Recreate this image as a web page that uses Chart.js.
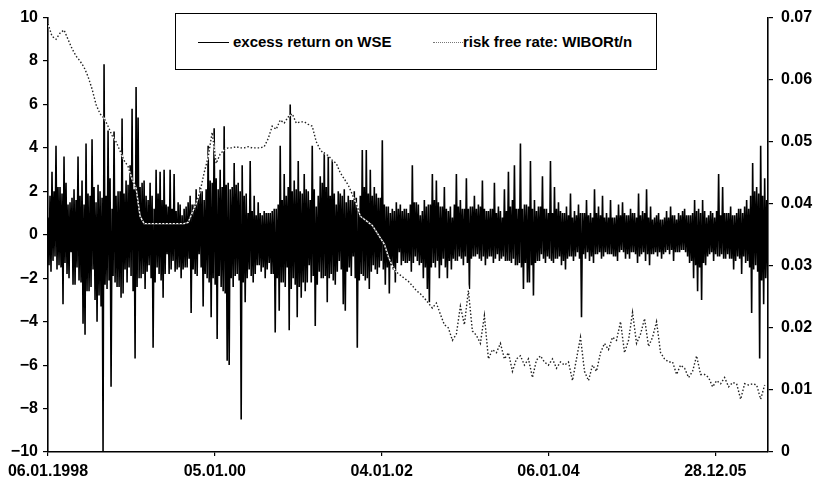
<!DOCTYPE html>
<html><head><meta charset="utf-8">
<script src="https://cdn.jsdelivr.net/npm/chart.js@4/dist/chart.umd.min.js"></script>
<style>
html,body{margin:0;padding:0;background:#fff;}
#wrap{position:relative;width:814px;height:489px;}
#legend{position:absolute;left:175px;top:13px;width:480px;height:55px;border:1.5px solid #000;background:#fff;
 font:bold 15px "Liberation Sans",Arial,sans-serif;color:#000;}
#legend .item{position:absolute;top:19px;white-space:nowrap;}
#legend .mk{position:absolute;top:28px;height:0;}
</style></head>
<body>
<div id="wrap">
<canvas id="c" width="814" height="489"></canvas>
<div id="legend">
 <div class="mk" style="left:22px;width:31px;border-top:1.3px solid #000"></div>
 <div class="item" style="left:57px">excess return on WSE</div>
 <div class="mk" style="left:257px;width:30px;border-top:1.5px dotted #777"></div>
 <div class="item" style="left:287px">risk free rate: WIBORt/n</div>
</div>
</div>
<script>
// x-axis tick labels (observation number -> date)
const tickObs = [0, 500, 1000, 1500, 2000];
const tickLabels = ["06.01.1998", "05.01.00", "04.01.02", "06.01.04", "28.12.05"];
const totalObs = 2158;

// excess return on WSE (sampled every 3rd observation)
const returnStep = 3;
const excessReturn = [
 0.8,-1.4,1.8,-1.7,2.9,-1.2,2.0,-1.0,4.1,-1.6,2.2,-1.4,2.2,-1.5,1.9,-3.2,3.6,-1.3,2.4,-1.8,
 1.4,-2.0,1.5,-0.8,1.7,-2.3,2.1,-2.3,1.6,-1.5,3.6,-2.1,1.8,-2.2,2.5,-4.1,1.4,-4.6,4.2,-2.6,
 1.9,-2.6,1.8,-2.4,4.4,-1.6,2.2,-3.0,1.5,-4.0,2.3,-2.8,2.0,-3.3,1.7,-10.0,7.85,-2.3,1.8,-2.5,
 4.8,-2.1,2.6,-7.0,1.2,-1.9,4.75,-2.2,1.8,-2.4,2.0,-2.4,2.0,-2.9,5.35,-2.7,1.9,-1.6,2.5,-2.2,
 2.3,-1.5,3.2,-1.9,5.8,-2.6,2.1,-5.7,6.8,-2.4,5.4,-2.0,2.2,-2.0,2.4,-1.8,2.5,-2.5,1.8,-1.7,
 1.6,-1.4,2.4,-2.0,1.8,-5.2,1.2,-2.2,3.0,-1.5,1.9,-1.8,2.9,-2.1,1.6,-2.9,3.0,-1.8,1.4,-0.9,
 1.3,-1.8,3.0,-1.6,1.2,-1.2,2.8,-1.7,1.1,-1.6,1.5,-1.5,1.4,-2.0,0.9,-1.6,1.2,-1.5,1.3,-1.5,
 1.5,-1.1,1.8,-3.6,1.4,-1.6,1.4,-1.8,2.1,-1.9,1.7,-0.9,2.2,-1.5,2.0,-3.3,1.6,-1.8,2.1,-2.0,
 4.1,-2.2,2.5,-3.8,2.4,-2.0,4.9,-2.3,2.6,-4.8,2.1,-1.9,3.0,-2.4,2.2,-2.6,5.0,-2.7,2.3,-5.8,
 2.4,-6.0,2.1,-2.0,2.2,-2.4,3.3,-1.9,2.3,-1.8,2.4,-2.1,2.0,-8.5,3.2,-2.2,1.8,-3.1,1.9,-2.0,
 1.0,-1.6,3.4,-1.9,1.1,-2.2,1.8,-1.8,0.9,-1.4,1.5,-1.4,1.0,-1.7,0.9,-1.5,1.1,-2.0,1.0,-1.6,
 1.0,-1.3,1.0,-1.8,1.1,-1.8,1.2,-4.5,1.2,-2.0,1.4,-3.5,4.1,-2.2,1.6,-2.2,2.8,-2.4,1.8,-1.5,
 2.2,-4.4,6.0,-2.5,2.0,-2.0,2.5,-2.3,2.1,-3.8,3.4,-2.4,2.0,-2.9,1.9,-2.2,2.8,-2.6,2.1,-2.2,
 2.0,-1.4,1.6,-2.2,4.1,-1.9,2.1,-4.2,1.3,-2.3,1.8,-1.7,2.7,-2.0,2.4,-2.0,3.8,-1.9,2.2,-3.1,
 3.6,-2.0,1.8,-1.8,3.4,-2.1,1.9,-2.3,1.4,-1.7,2.0,-1.2,1.9,-1.6,1.8,-3.2,2.1,-3.5,1.5,-1.7,
 1.8,-1.5,1.6,-1.9,1.6,-1.0,2.0,-2.0,1.7,-5.2,1.2,-2.1,1.8,-1.8,3.9,-1.9,2.2,-2.1,3.9,-2.0,
 1.9,-2.5,3.0,-1.7,1.8,-1.4,2.2,-1.6,1.9,-1.8,1.7,-1.5,1.7,-1.2,4.35,-1.6,1.4,-2.3,1.3,-1.5,
 1.3,-2.7,1.0,-1.4,1.2,-1.6,1.1,-2.2,1.5,-1.3,1.2,-0.8,1.4,-1.4,1.1,-1.2,1.2,-1.3,1.2,-1.3,
 1.0,-1.2,1.4,-1.7,3.2,-1.3,1.5,-1.0,1.5,-1.2,1.4,-1.4,0.9,-1.3,1.1,-2.0,1.6,-1.5,1.3,-2.5,
 1.4,-3.1,1.4,-1.5,2.8,-1.3,1.6,-1.5,2.5,-1.2,1.5,-2.0,1.3,-1.4,1.3,-1.1,2.2,-1.5,1.2,-2.0,
 1.1,-1.2,1.3,-1.6,0.8,-1.1,1.4,-1.2,2.8,-1.2,1.3,-1.0,1.6,-1.1,1.2,-1.4,1.2,-1.0,2.6,-1.3,
 1.2,-2.5,1.3,-1.1,1.3,-1.0,1.8,-1.0,1.2,-0.9,1.4,-1.1,1.3,-1.2,2.5,-1.0,1.2,-1.4,1.1,-1.1,
 1.1,-1.0,1.2,-1.0,1.2,-1.3,2.4,-1.1,1.0,-0.9,1.3,-1.2,1.1,-1.1,0.8,-1.0,2.1,-1.2,1.1,-1.2,
 2.9,-1.2,1.3,-1.3,1.6,-1.1,3.2,-1.4,1.2,-1.4,1.2,-1.3,4.2,-1.5,1.2,-2.5,1.4,-1.3,1.4,-2.2,
 1.3,-2.2,3.4,-1.4,1.2,-2.8,1.6,-1.3,1.1,-1.2,1.3,-1.2,1.3,-0.9,2.7,-1.1,1.2,-1.3,1.2,-1.0,
 1.0,-1.1,3.4,-1.2,1.0,-1.3,2.2,-1.1,1.2,-1.1,1.5,-1.0,1.1,-1.4,1.0,-1.2,1.0,-1.6,1.3,-1.1,
 0.9,-1.0,1.9,-1.0,0.8,-1.2,1.1,-1.0,0.9,-0.8,1.4,-1.1,1.0,-3.8,1.0,-0.9,1.0,-1.1,1.6,-0.8,
 0.9,-1.2,1.0,-1.0,0.8,-1.3,2.1,-0.9,1.0,-0.9,1.3,-0.8,0.9,-1.1,1.8,-1.0,0.8,-0.8,1.0,-0.9,
 0.8,-0.9,1.6,-0.9,0.8,-1.0,0.8,-1.0,0.9,-1.2,1.4,-0.8,0.9,-0.7,1.5,-0.8,1.0,-1.1,0.9,-0.9,
 0.9,-1.1,1.2,-0.8,1.0,-0.8,1.0,-0.9,0.8,-1.3,1.9,-1.0,0.9,-0.9,1.1,-0.8,1.0,-1.2,2.1,-0.9,
 0.8,-1.4,1.3,-0.9,0.7,-0.9,0.8,-0.8,0.9,-1.0,1.0,-0.8,0.7,-1.1,0.7,-0.9,0.8,-0.8,1.1,-0.7,
 0.8,-0.9,1.3,-0.7,0.9,-1.2,0.9,-0.8,0.7,-0.8,1.0,-0.8,0.9,-0.7,1.1,-0.7,1.2,-0.8,0.9,-1.0,
 0.9,-1.3,0.9,-1.2,1.0,-2.0,1.6,-1.4,1.1,-2.6,1.2,-1.5,1.0,-3.0,1.6,-1.3,1.1,-1.4,0.8,-1.0,
 0.9,-0.9,1.1,-0.8,1.0,-1.2,0.8,-0.9,1.1,-1.0,2.8,-1.0,0.9,-0.9,2.2,-1.1,1.0,-1.1,1.0,-0.9,
 1.0,-1.1,1.3,-1.1,0.9,-1.6,0.9,-1.2,1.0,-1.0,1.2,-1.1,1.2,-1.8,1.0,-1.0,1.3,-1.3,1.6,-1.2,
 1.2,-1.5,1.8,-3.6,3.3,-1.6,2.0,-1.4,2.2,-1.7,1.9,-5.7,4.1,-2.1,1.8,-3.2,2.6,-2.0,1.6,-2.0
];

// risk free rate WIBOR t/n (sampled every 12th observation)
const rateStep = 12;
const riskFreeRate = [
 0.0690,0.0670,0.0665,0.0675,0.0680,0.0665,0.0650,0.0638,0.0630,0.0620,
 0.0605,0.0585,0.0560,0.0545,0.0538,0.0525,0.0510,0.0500,0.0485,0.0470,
 0.0460,0.0440,0.0425,0.0380,0.0368,0.0368,0.0368,0.0368,0.0368,0.0368,
 0.0368,0.0368,0.0368,0.0368,0.0368,0.0370,0.0385,0.0400,0.0420,0.0450,
 0.0475,0.0515,0.0465,0.0480,0.0487,0.0490,0.0490,0.0492,0.0490,0.0490,
 0.0492,0.0490,0.0490,0.0490,0.0492,0.0505,0.0525,0.0520,0.0535,0.0530,
 0.0540,0.0545,0.0530,0.0532,0.0532,0.0528,0.0525,0.0500,0.0487,0.0480,
 0.0478,0.0470,0.0465,0.0450,0.0440,0.0430,0.0415,0.0400,0.0380,0.0375,
 0.0370,0.0365,0.0355,0.0345,0.0335,0.0315,0.0300,0.0290,0.0285,0.0280,
 0.0275,0.0268,0.0260,0.0255,0.0248,0.0240,0.0232,0.0240,0.0222,0.0205,
 0.0200,0.0180,0.0190,0.0235,0.0205,0.0260,0.0195,0.0188,0.0175,0.0220,
 0.0150,0.0165,0.0160,0.0175,0.0150,0.0160,0.0130,0.0150,0.0155,0.0140,
 0.0150,0.0120,0.0148,0.0155,0.0145,0.0140,0.0150,0.0135,0.0145,0.0140,
 0.0145,0.0115,0.0150,0.0185,0.0130,0.0115,0.0140,0.0130,0.0160,0.0175,
 0.0165,0.0185,0.0180,0.0210,0.0160,0.0180,0.0225,0.0175,0.0190,0.0215,
 0.0170,0.0185,0.0210,0.0160,0.0150,0.0145,0.0145,0.0125,0.0140,0.0135,
 0.0120,0.0130,0.0155,0.0125,0.0125,0.0120,0.0105,0.0115,0.0110,0.0120,
 0.0105,0.0112,0.0110,0.0085,0.0110,0.0108,0.0110,0.0108,0.0085,0.0108
];

const retPts = excessReturn.map((v, i) => ({x: i * returnStep, y: v}));
const ratePts = riskFreeRate.map((v, i) => ({x: i * rateStep, y: v}));

const FONT = {family: '"Liberation Sans", Arial, sans-serif', size: 16, weight: 'bold'};

new Chart(document.getElementById('c'), {
  type: 'line',
  data: {
    datasets: [
      {label: 'risk free rate: WIBORt/n', data: ratePts, yAxisID: 'yR', borderColor: '#222',
       borderWidth: 1.4, borderDash: [1.5, 2], pointRadius: 0, tension: 0, order: 0},
      {label: 'rate base', data: ratePts, yAxisID: 'yR', borderColor: '#fff',
       borderWidth: 1.4, pointRadius: 0, tension: 0, order: 1},
      {label: 'excess return on WSE', data: retPts, yAxisID: 'yL', borderColor: '#000',
       borderWidth: 1.6, pointRadius: 0, tension: 0, order: 2}
    ]
  },
  options: {
    responsive: false, animation: false,
    layout: {padding: {top: 13, left: 0, right: 0, bottom: 0}},
    plugins: {legend: {display: false}, tooltip: {enabled: false}},
    scales: {
      x: {
        type: 'linear', min: 0, max: totalObs,
        afterBuildTicks: s => { s.ticks = tickObs.map(v => ({value: v})); },
        afterFit: s => { s.height = 37; },
        ticks: {autoSkip: false, maxRotation: 0, color: '#000', font: FONT, padding: 6,
                callback: (v) => tickLabels[tickObs.indexOf(v)]},
        grid: {display: true, drawOnChartArea: false, drawTicks: true, tickLength: 4, color: '#000', lineWidth: 1.2},
        border: {display: true, color: '#000', width: 1.6}
      },
      yL: {
        position: 'left', min: -10, max: 10,
        afterFit: s => { s.width = 48; },
        ticks: {stepSize: 2, color: '#000', font: FONT, padding: 5,
                callback: v => v < 0 ? '\u2212' + Math.abs(v) : String(v)},
        grid: {display: true, drawOnChartArea: false, drawTicks: true, tickLength: 5, color: '#000', lineWidth: 1.2},
        border: {display: true, color: '#000', width: 1.6}
      },
      yR: {
        position: 'right', min: 0, max: 0.07,
        afterFit: s => { s.width = 46; },
        ticks: {stepSize: 0.01, color: '#000', font: FONT, padding: 8,
                callback: v => Math.abs(v) < 1e-9 ? '0' : v.toFixed(2)},
        grid: {display: true, drawOnChartArea: false, drawTicks: true, tickLength: 5, color: '#000', lineWidth: 1.2},
        border: {display: true, color: '#000', width: 1.6}
      }
    }
  }
});
</script>
</body></html>
